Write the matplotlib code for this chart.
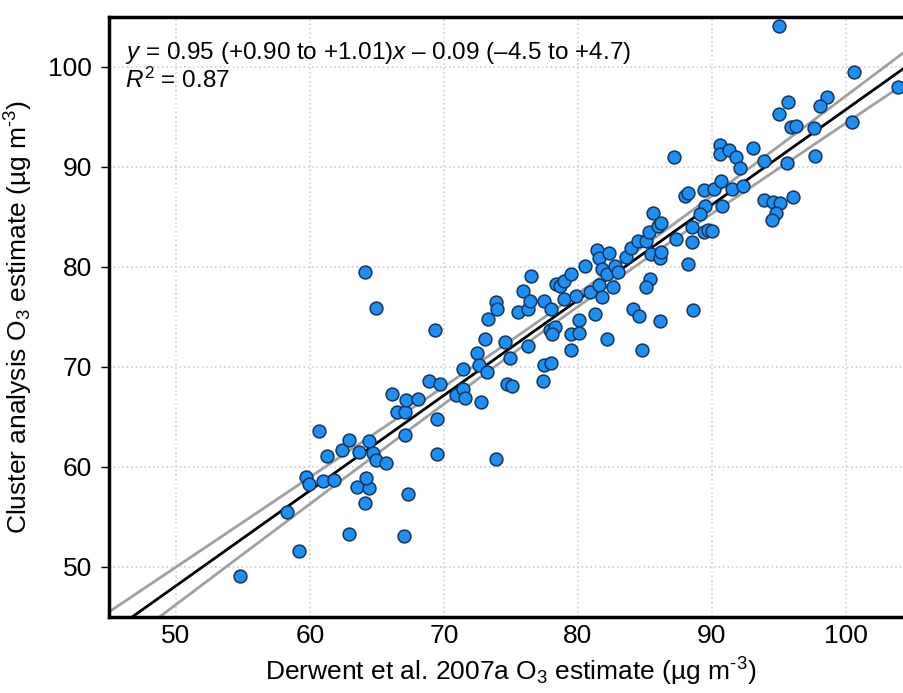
import numpy as np
import matplotlib.pyplot as plt

plt.rcParams['font.family'] = ['Liberation Sans', 'DejaVu Sans']
plt.rcParams['mathtext.fontset'] = 'custom'
plt.rcParams['mathtext.rm'] = 'Liberation Sans'
plt.rcParams['mathtext.it'] = 'Liberation Sans:italic'

# Derwent et al. 2007a estimate (x) vs cluster analysis estimate (y), ug m-3
derwent = [
    54.8, 59.2, 58.3, 62.9, 67.0, 67.3, 64.1, 63.5, 64.4, 64.2,
    59.7, 59.9, 61.0, 61.8, 60.7, 61.3, 62.4, 62.9, 63.7, 64.4,
    64.7, 64.9, 65.7, 67.1, 66.1, 66.5, 67.1, 67.2, 68.1,
    64.1, 64.9, 69.3, 69.5, 73.9, 69.5, 68.9, 69.7, 70.9, 71.4,
    71.6, 72.8, 71.4, 72.5, 72.6, 73.2, 73.1, 73.3, 73.9, 74.0,
    74.6, 74.9, 74.7, 75.1, 75.5, 75.9, 76.3, 76.4, 76.5, 76.3,
    77.4, 77.5, 78.0, 77.5, 78.0, 77.9, 78.3, 78.1, 78.4, 78.7,
    79.0, 79.5, 79.0, 79.9, 79.5, 80.1, 79.5, 80.1, 80.5, 80.9,
    81.3, 81.4, 81.6, 81.6, 81.8, 81.8, 82.2, 82.3, 82.6, 82.8,
    83.0, 82.2, 83.6, 84.0, 84.5, 85.1, 85.3, 85.6, 86.0, 86.2,
    85.5, 86.1, 86.2, 85.4, 85.1, 84.1, 84.6, 84.8, 86.1, 87.3,
    88.2, 88.6, 88.5, 88.0, 88.2, 88.5,
    87.2, 90.6, 90.6, 91.3, 91.8, 92.1, 93.1, 93.9, 95.6, 95.0,
    95.7, 95.9, 96.3, 97.7, 97.6, 89.4, 90.2, 90.7, 91.5, 92.3,
    90.8, 89.5, 89.1, 89.4, 89.7, 90.0, 93.9, 94.6, 95.1, 94.8,
    94.5, 96.1,
    95.0, 100.6, 103.9, 100.5, 98.6, 98.1,
]
cluster = [
    49.1, 51.6, 55.5, 53.3, 53.1, 57.3, 56.4, 58.0, 57.9, 58.9,
    59.0, 58.3, 58.6, 58.7, 63.6, 61.1, 61.7, 62.7, 61.5, 62.6,
    61.4, 60.7, 60.4, 63.2, 67.3, 65.5, 65.5, 66.7, 66.8,
    79.5, 75.9, 73.7, 61.3, 60.8, 64.8, 68.6, 68.3, 67.2, 67.8,
    66.9, 66.5, 69.8, 71.4, 70.2, 69.5, 72.8, 74.8, 76.5, 75.8,
    72.5, 70.9, 68.3, 68.1, 75.5, 77.6, 75.8, 76.6, 79.1, 72.1,
    68.6, 70.2, 70.4, 76.6, 75.8, 73.7, 74.0, 73.3, 78.3, 78.1,
    78.6, 79.3, 76.8, 77.1, 73.3, 73.4, 71.7, 74.7, 80.1, 77.5,
    75.3, 81.7, 80.9, 78.2, 79.8, 77.0, 79.3, 81.4, 78.0, 80.1,
    79.5, 72.8, 81.0, 81.9, 82.6, 82.6, 83.5, 85.4, 84.1, 84.4,
    81.3, 80.9, 81.5, 78.8, 78.0, 75.8, 75.1, 71.7, 74.6, 82.8,
    80.3, 75.7, 82.5, 87.1, 87.4, 84.0,
    91.0, 92.2, 91.3, 91.7, 91.0, 89.9, 91.9, 90.6, 90.4, 95.3,
    96.5, 94.0, 94.1, 91.1, 93.9, 87.7, 87.8, 88.6, 87.8, 88.1,
    86.1, 86.1, 85.3, 83.5, 83.7, 83.6, 86.7, 86.5, 86.4, 85.4,
    84.7, 87.0,
    104.1, 99.5, 98.0, 94.5, 97.0, 96.1,
]

x = np.array(derwent)
y = np.array(cluster)

# least squares fit and 95% confidence band of the fitted line
n = len(x)
slope, intercept = np.polyfit(x, y, 1)
resid = y - (slope * x + intercept)
s = np.sqrt(np.sum(resid ** 2) / (n - 2))
sxx = np.sum((x - x.mean()) ** 2)
xs = np.linspace(40, 110, 300)
fit = slope * xs + intercept
band = 1.976 * s * np.sqrt(1 / n + (xs - x.mean()) ** 2 / sxx)

fig = plt.figure(figsize=(9.04, 6.93), dpi=100)
ax = fig.add_axes([0.1206, 0.1097, 0.889, 0.8658])

ax.grid(True, color='#d0d0d0', linestyle=':', linewidth=1.2)
ax.set_axisbelow(True)

ax.plot(xs, fit + band, color='#a0a0a0', lw=2, zorder=2)
ax.plot(xs, fit - band, color='#a0a0a0', lw=2, zorder=2)
ax.plot(xs, fit, color='black', lw=2, zorder=3)

ax.scatter(x, y, s=85, facecolor='#1e8ff5', edgecolor='#12345e', linewidth=1.1, zorder=4)

ax.set_xlim(45, 105)
ax.set_ylim(45, 105)
ax.set_xticks([50, 60, 70, 80, 90, 100])
ax.set_yticks([50, 60, 70, 80, 90, 100])
ax.tick_params(axis='both', labelsize=19)
ax.tick_params(axis='y', length=6, width=1, pad=6)
ax.tick_params(axis='x', length=0, pad=5)

for side in ['left', 'bottom', 'top', 'right']:
    ax.spines[side].set_linewidth(2.5)

ax.set_xlabel(r'Derwent et al. 2007a O$_3$ estimate (µg m$^{\text{-}3}$)', fontsize=19, labelpad=6)
ax.set_ylabel(r'Cluster analysis O$_3$ estimate (µg m$^{\text{-}3}$)', fontsize=19, labelpad=10)

ax.text(0.02, 0.93, r'$\mathit{y}$ = 0.95 (+0.90 to +1.01)$\mathit{x}$ – 0.09 (–4.5 to +4.7)',
        transform=ax.transAxes, fontsize=17.5, va='baseline', ha='left')
ax.text(0.02, 0.882, r'$\mathit{R}^2$ = 0.87',
        transform=ax.transAxes, fontsize=17.5, va='baseline', ha='left')

fig.savefig('out.png', dpi=100)
